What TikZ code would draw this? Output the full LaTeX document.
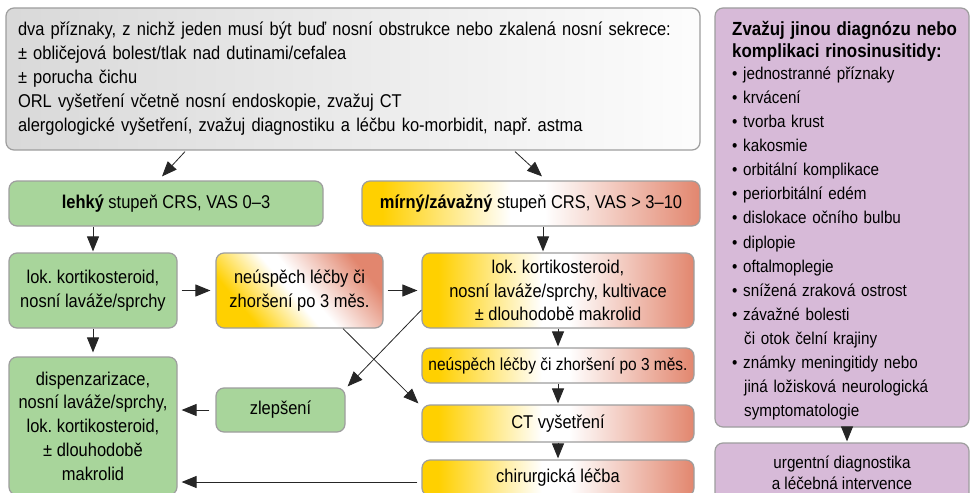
\documentclass[tikz,border=0pt]{standalone}
\usepackage{fontspec}
\setmainfont{Liberation Sans}[FakeStretch=0.89]
\usetikzlibrary{arrows.meta,calc}
\frenchspacing
\definecolor{grn}{RGB}{168,213,155}
\definecolor{yel}{RGB}{255,208,0}
\definecolor{sal}{RGB}{226,134,110}
\definecolor{pur}{RGB}{215,186,216}
\definecolor{bord}{RGB}{158,158,158}
\pgfdeclarehorizontalshading{oshade}{100bp}{color(0bp)=(yel); color(25bp)=(yel); color(28bp)=(yel); color(47bp)=(white); color(52bp)=(white); color(75bp)=(sal); color(100bp)=(sal)}
\pgfdeclarehorizontalshading{gshade}{100bp}{color(0bp)=(black!15); color(25bp)=(black!15); color(75bp)=(black!1); color(100bp)=(black!1)}
\tikzset{
 box/.style={draw=bord, line width=1.2pt, rounded corners=8pt, inner sep=0pt, align=center,
   font=\fontsize{18.5}{24}\selectfont\frenchspacing},
 gbox/.style={box, fill=grn},
 obox/.style={box, shading=oshade},
 pbox/.style={box, fill=pur},
 arr/.style={line width=1pt, draw=black!85, -{Triangle[length=15pt,width=12pt]}},
 thinarr/.style={line width=0.8pt, draw=black!85, -{Triangle[length=15pt,width=12pt]}},
}
\newcommand{\bul}{\makebox[11pt][l]{•}}
\newcommand{\ind}{\hspace*{12pt}}
\begin{document}
\begin{tikzpicture}[x=1pt,y=1pt]
\useasboundingbox (0,0) rectangle (973,-492);
\clip (0,0) rectangle (973,-492);
\fill[white] (0,0) rectangle (973,-492);

\node[box, shading=gshade, minimum width=694pt, minimum height=142pt,
  align=left, text width=670pt] (top) at (353,-79)
 {dva příznaky, z nichž jeden musí být buď nosní obstrukce nebo zkalená nosní sekrece:\\
  ± obličejová bolest/tlak nad dutinami/cefalea\\
  ± porucha čichu\\
  ORL vyšetření včetně nosní endoskopie, zvažuj CT\\
  alergologické vyšetření, zvažuj diagnostiku a léčbu ko-morbidit, např. astma};

\node[gbox, minimum width=314pt, minimum height=45pt] (lehky) at (166,-203.5)
 {\textbf{lehký} stupeň CRS, VAS 0–3};
\node[obox, minimum width=338pt, minimum height=45pt] (mirny) at (531,-203.5)
 {\textbf{mírný/závažný} stupeň CRS, VAS > 3–10};

\node[gbox, minimum width=168pt, minimum height=75pt] (glok) at (93,-290.5)
 {lok. kortikosteroid,\\nosní laváže/sprchy};
\node[box, shading=oshade, shading angle=40,
  minimum width=167pt, minimum height=75pt] (sneu) at (299.5,-290.5)
 {neúspěch léčby či\\zhoršení po 3 měs.};
\node[obox, minimum width=272pt, minimum height=75pt, font=\fontsize{18.5}{23.5}\selectfont] (olok) at (558,-290.5)
 {lok. kortikosteroid,\\nosní laváže/sprchy, kultivace\\± dlouhodobě makrolid};
\node[obox, minimum width=272pt, minimum height=35pt, font=\fontsize{17.4}{22}\selectfont] (oneu) at (558,-365.5)
 {neúspěch léčby či zhoršení po 3 měs.};
\node[obox, minimum width=272pt, minimum height=37pt] (ct) at (558,-423.5)
 {CT vyšetření};
\node[obox, minimum width=272pt, minimum height=36pt] (chir) at (558,-478)
 {chirurgická léčba};
\node[gbox, minimum width=129pt, minimum height=44pt] (zlep) at (280.5,-410)
 {zlepšení};
\node[gbox, minimum width=168pt, minimum height=138pt, font=\fontsize{18.5}{23.7}\selectfont] (disp) at (93,-426)
 {dispenzarizace,\\nosní laváže/sprchy,\\lok. kortikosteroid,\\± dlouhodobě\\makrolid};

\node[pbox, minimum width=254pt, minimum height=419pt] (pur) at (842,-217.5) {};
\node[anchor=north west, inner sep=0pt, align=left, text width=225pt,
  font=\fontsize{17.1}{24.07}\selectfont] (purtxt) at (732,-21)
 {\rule{0pt}{14pt}{\fontsize{19}{24.07}\selectfont\bfseries Zvažuj jinou diagnózu nebo}\\[-2pt]
  {\fontsize{19}{24.07}\selectfont\bfseries komplikaci rinosinusitidy:}\\[-2pt]
  \bul jednostranné příznaky\\
  \bul krvácení\\
  \bul tvorba krust\\
  \bul kakosmie\\
  \bul orbitální komplikace\\
  \bul periorbitální edém\\
  \bul dislokace očního bulbu\\
  \bul diplopie\\
  \bul oftalmoplegie\\
  \bul snížená zraková ostrost\\
  \bul závažné bolesti\\
  \ind či otok čelní krajiny\\
  \bul známky meningitidy nebo\\
  \ind jiná ložisková neurologická\\
  \ind symptomatologie};
\node[pbox, minimum width=254pt, minimum height=59pt, font=\fontsize{17.1}{21}\selectfont] (urg) at (842,-472.5)
 {urgentní diagnostika\\a léčebná intervence};

% connectors
\draw[thinarr] ([xshift=-168pt,yshift=-1pt]top.south) -- ([xshift=-4pt,yshift=4pt]lehky.north);
\draw[thinarr] ([xshift=162pt,yshift=-1pt]top.south) -- ([xshift=11pt,yshift=4pt]mirny.north);
\draw[arr, shorten >=1pt] (glok.north |- lehky.south) -- (glok.north);
\draw[arr, shorten <=4pt, shorten >=5pt] (glok.east) -- (sneu.west);
\draw[arr, shorten <=4pt, shorten >=4pt] (sneu.east) -- (olok.west);
\draw[arr, shorten >=1pt] ([xshift=-15pt]mirny.south -| olok.north) -- ([xshift=-15pt]olok.north);
\draw[arr, shorten >=1pt] (olok.south) -- (oneu.north);
\draw[arr, shorten >=1pt] (oneu.south) -- (ct.north);
\draw[arr, shorten >=1pt] (ct.south) -- (chir.north);
\draw[arr, shorten >=4pt] (glok.south) -- (disp.north);
\draw[arr, shorten <=6pt, shorten >=4pt] (zlep.west) -- (zlep.west -| disp.east);
\draw[thinarr] ([xshift=43.5pt]sneu.south) -- ([xshift=-3pt,yshift=1pt]ct.north west);
\draw[thinarr] ([yshift=-19.5pt]olok.west) -- ([xshift=2pt,yshift=1pt]zlep.north east);
\draw[arr, shorten >=4pt] ([xshift=-4pt,yshift=-4pt]chir.west) -- ([yshift=-4pt]chir.west -| disp.east);
\draw[arr, shorten >=1pt] ([xshift=5pt]pur.south) -- ([xshift=5pt]urg.north);
\end{tikzpicture}
\end{document}
